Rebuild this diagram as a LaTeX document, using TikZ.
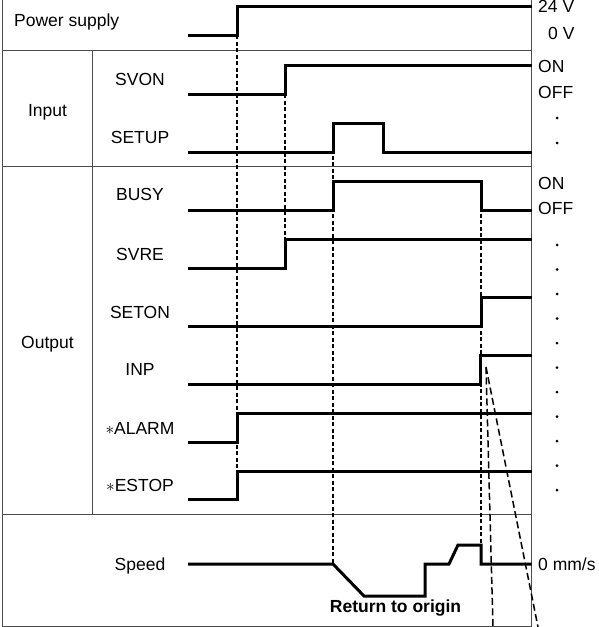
\documentclass[tikz,border=0pt]{standalone}
\usepackage{fontspec}
\setmainfont{Liberation Sans}
\begin{document}
\begin{tikzpicture}[x=1pt,y=-1pt,
  frame/.style={draw=black!70,line width=0.9pt},
  sig/.style={draw=black,line width=3pt,line join=miter,line cap=butt},
  guide/.style={draw=black,line width=1.3pt,dash pattern=on 4pt off 2.5pt},
  slant/.style={draw=black,line width=1.5pt,dash pattern=on 7pt off 3.5pt},
  lbl/.style={inner sep=0pt,anchor=base,font=\fontsize{17.5}{20}\selectfont},
  lbll/.style={lbl,anchor=base west},
  bdot/.style={fill=black}]
\useasboundingbox (0,0) rectangle (598,627);
% frame
\draw[frame] (2.5,0) -- (2.5,626) -- (531.5,626) -- (531.5,0);
\draw[frame] (2.5,50) -- (531.5,50);
\draw[frame] (2.5,166) -- (531.5,166);
\draw[frame] (2.5,514) -- (531.5,514);
\draw[frame] (92.7,50) -- (92.7,514);
% guide lines
\draw[guide] (237,35) -- (237,471);
\draw[guide] (285,94) -- (285,239);
\draw[guide] (333,123) -- (333,564);
\draw[guide] (481,181) -- (481,545);
\coordinate (inpk) at (486,367);
\coordinate (enda) at (493,627);
\coordinate (endb) at (538,627);
\draw[slant] (inpk) -- (enda);
\draw[slant] (inpk) -- (endb);
% signals
\draw[sig] (188,35) -- (237,35) -- (237,6.5) -- (531.5,6.5);
\draw[sig] (188,94) -- (285,94) -- (285,65) -- (531.5,65);
\draw[sig] (188,152) -- (333,152) -- (333,123) -- (383,123) -- (383,152) -- (531.5,152);
\draw[sig] (188,210) -- (333,210) -- (333,181) -- (481,181) -- (481,210) -- (531.5,210);
\draw[sig] (188,268) -- (285,268) -- (285,239) -- (531.5,239);
\draw[sig] (188,326) -- (481,326) -- (481,297) -- (531.5,297);
\draw[sig] (188,384) -- (480,384) -- (480,355) -- (531.5,355);
\draw[sig] (188,442) -- (237,442) -- (237,413) -- (531.5,413);
\draw[sig] (188,499) -- (237,499) -- (237,471) -- (531.5,471);
\draw[sig] (188,564) -- (333,564) -- (364,596) -- (425,596) -- (425,564) -- (449,564) -- (458,545) -- (481,545) -- (481,564) -- (531.5,564);
% left labels
\node[lbll] (ps) at (14,26) {Power supply};
\node[lbl] (inp) at (47.5,116) {Input};
\node[lbl] (outp) at (47.5,348) {Output};
\node[lbl] (svon) at (140,85.5) {SVON};
\node[lbl] (setup) at (140,143.3) {SETUP};
\node[lbl] (busy) at (140,200.7) {BUSY};
\node[lbl] (svre) at (140,260.7) {SVRE};
\node[lbl] (seton) at (140,318) {SETON};
\node[lbl] (inpl) at (140,375.7) {INP};
\node[lbl] (alarm) at (140,434) {$\ast$ALARM};
\node[lbl] (estop) at (140,491.7) {$\ast$ESTOP};
\node[lbl] (speed) at (140,570.7) {Speed};
\node[lbl,font=\fontsize{17.5}{20}\selectfont\bfseries] (rto) at (395.5,612.5) {Return to origin};
% right labels
\node[lbll] (v24) at (538,12.5) {24 V};
\node[lbll] (v0) at (548,39) {0 V};
\node[lbll] (on1) at (538,72) {ON};
\node[lbll] (off1) at (538,98) {OFF};
\node[lbll] (on2) at (538,189.3) {ON};
\node[lbll] (off2) at (538,214.3) {OFF};
\node[lbll] (mms) at (538,570) {0 mm/s};
% dots
\foreach \yy in {118,143} \fill[bdot] (557,\yy) circle (1.5);
\foreach \k in {0,...,10} \fill[bdot] (557,245+24.5*\k) circle (1.5);
\end{tikzpicture}
\end{document}
